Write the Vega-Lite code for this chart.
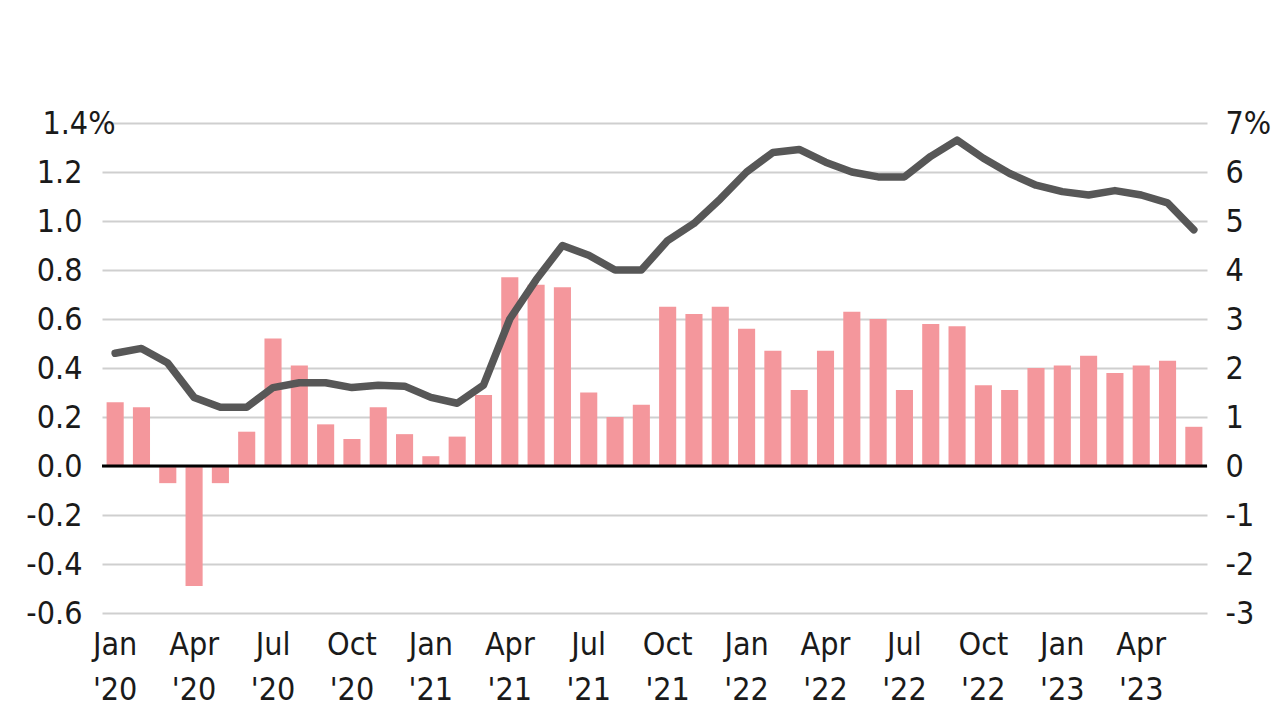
{
  "$schema": "https://vega.github.io/schema/vega-lite/v6.json",
  "width": 1105,
  "height": 490,
  "autosize": {"type": "none"},
  "padding": {"left": 102, "top": 123, "right": 72, "bottom": 107},
  "background": "white",
  "config": {
    "view": {"stroke": null},
    "axis": {
      "labelFont": "DejaVu Sans Condensed, Liberation Sans Narrow, sans-serif",
      "labelFontSize": 32,
      "labelColor": "#1a1a1a",
      "ticks": false,
      "domain": false,
      "title": null
    }
  },
  "data": {
    "values": [
      {"m": "Jan '20", "mom": 0.26, "yoy": 2.3},
      {"m": "Feb '20", "mom": 0.24, "yoy": 2.4},
      {"m": "Mar '20", "mom": -0.07, "yoy": 2.1},
      {"m": "Apr '20", "mom": -0.49, "yoy": 1.4},
      {"m": "May '20", "mom": -0.07, "yoy": 1.2},
      {"m": "Jun '20", "mom": 0.14, "yoy": 1.2},
      {"m": "Jul '20", "mom": 0.52, "yoy": 1.6},
      {"m": "Aug '20", "mom": 0.41, "yoy": 1.7},
      {"m": "Sep '20", "mom": 0.17, "yoy": 1.7},
      {"m": "Oct '20", "mom": 0.11, "yoy": 1.6},
      {"m": "Nov '20", "mom": 0.24, "yoy": 1.65},
      {"m": "Dec '20", "mom": 0.13, "yoy": 1.63},
      {"m": "Jan '21", "mom": 0.04, "yoy": 1.4},
      {"m": "Feb '21", "mom": 0.12, "yoy": 1.28},
      {"m": "Mar '21", "mom": 0.29, "yoy": 1.65},
      {"m": "Apr '21", "mom": 0.77, "yoy": 3.0},
      {"m": "May '21", "mom": 0.74, "yoy": 3.8},
      {"m": "Jun '21", "mom": 0.73, "yoy": 4.5},
      {"m": "Jul '21", "mom": 0.30, "yoy": 4.3},
      {"m": "Aug '21", "mom": 0.20, "yoy": 4.0},
      {"m": "Sep '21", "mom": 0.25, "yoy": 4.0},
      {"m": "Oct '21", "mom": 0.65, "yoy": 4.6},
      {"m": "Nov '21", "mom": 0.62, "yoy": 4.95},
      {"m": "Dec '21", "mom": 0.65, "yoy": 5.45},
      {"m": "Jan '22", "mom": 0.56, "yoy": 6.0},
      {"m": "Feb '22", "mom": 0.47, "yoy": 6.4},
      {"m": "Mar '22", "mom": 0.31, "yoy": 6.46},
      {"m": "Apr '22", "mom": 0.47, "yoy": 6.2},
      {"m": "May '22", "mom": 0.63, "yoy": 6.0},
      {"m": "Jun '22", "mom": 0.60, "yoy": 5.9},
      {"m": "Jul '22", "mom": 0.31, "yoy": 5.9},
      {"m": "Aug '22", "mom": 0.58, "yoy": 6.32},
      {"m": "Sep '22", "mom": 0.57, "yoy": 6.65},
      {"m": "Oct '22", "mom": 0.33, "yoy": 6.28},
      {"m": "Nov '22", "mom": 0.31, "yoy": 5.97},
      {"m": "Dec '22", "mom": 0.40, "yoy": 5.73},
      {"m": "Jan '23", "mom": 0.41, "yoy": 5.6},
      {"m": "Feb '23", "mom": 0.45, "yoy": 5.53},
      {"m": "Mar '23", "mom": 0.38, "yoy": 5.62},
      {"m": "Apr '23", "mom": 0.41, "yoy": 5.53},
      {"m": "May '23", "mom": 0.43, "yoy": 5.37},
      {"m": "Jun '23", "mom": 0.16, "yoy": 4.82}
    ]
  },
  "encoding": {
    "x": {
      "field": "m",
      "type": "ordinal",
      "sort": null,
      "scale": {"paddingInner": 0.35, "paddingOuter": 0.175},
      "axis": {
        "labelAngle": 0,
        "labelBaseline": "top",
        "labelPadding": 16,
        "labelLineHeight": 45,
        "labelExpr": "indexof(['Jan','Apr','Jul','Oct'], slice(datum.value, 0, 3)) >= 0 ? split(datum.value, ' ') : ''"
      }
    }
  },
  "layer": [
    {
      "mark": {"type": "bar", "color": "#f4979c"},
      "encoding": {
        "y": {
          "field": "mom",
          "type": "quantitative",
          "scale": {"domain": [-0.6, 1.4], "nice": false, "zero": false},
          "axis": {
            "orient": "left",
            "values": [-0.6, -0.4, -0.2, 0, 0.2, 0.4, 0.6, 0.8, 1.0, 1.2, 1.4],
            "grid": true,
            "gridColor": "#cfcfcf",
            "gridWidth": 2,
            "labelPadding": {"condition": {"test": "datum.value == 1.4", "value": -13}, "value": 20},
            "labelExpr": "datum.value == 1.4 ? '1.4%' : replace(format(datum.value, '.1f'), '\u2212', '-')"
          }
        }
      }
    },
    {
      "data": {"values": [{"z": 0}]},
      "mark": {"type": "rule", "color": "#000000", "strokeWidth": 3},
      "encoding": {
        "x": null,
        "y": {
          "field": "z",
          "type": "quantitative",
          "scale": {"domain": [-0.6, 1.4], "nice": false, "zero": false},
          "axis": null
        }
      }
    },
    {
      "mark": {"type": "line", "color": "#575757", "strokeWidth": 7.5, "strokeCap": "round", "strokeJoin": "round"},
      "encoding": {
        "y": {
          "field": "yoy",
          "type": "quantitative",
          "scale": {"domain": [-3, 7], "nice": false, "zero": false},
          "axis": {
            "orient": "right",
            "values": [-3, -2, -1, 0, 1, 2, 3, 4, 5, 6, 7],
            "grid": false,
            "labelPadding": 18,
            "labelExpr": "datum.value == 7 ? '7%' : '' + datum.value"
          }
        }
      }
    }
  ],
  "resolve": {"scale": {"y": "independent"}}
}
